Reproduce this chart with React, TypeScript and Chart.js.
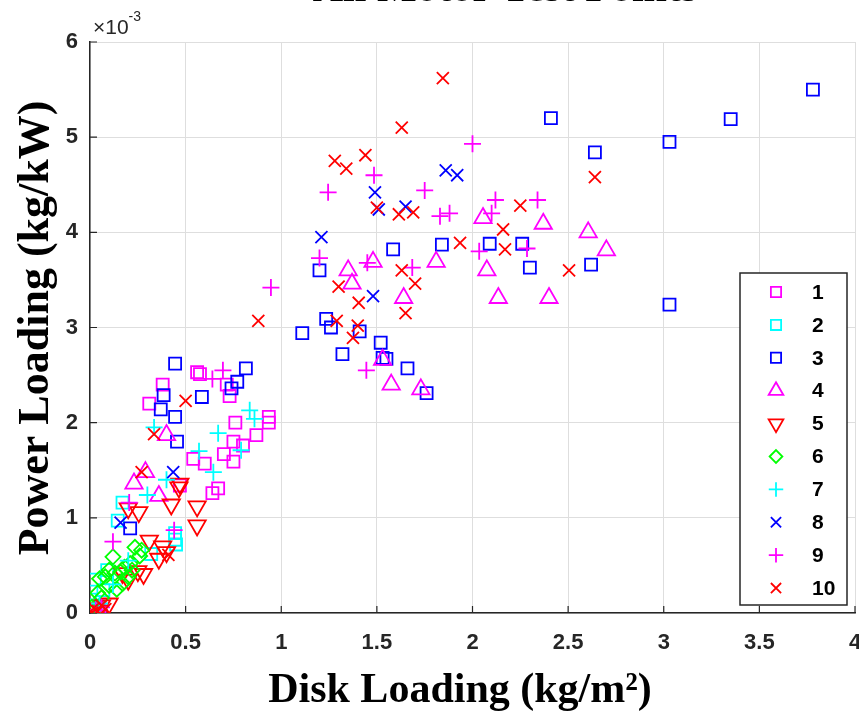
import React, { useEffect, useRef } from 'react';
import { Chart, registerables } from 'chart.js';

Chart.register(...registerables);

// Values: x = disk loading (kg/m^2), y = power loading in units of 10^-3 kg/kW
const SERIES_LABELS = ['1', '2', '3', '4', '5', '6', '7', '8', '9', '10'];
const X_TICKS = [0, 0.5, 1, 1.5, 2, 2.5, 3, 3.5, 4];
const Y_TICKS = [0, 1, 2, 3, 4, 5, 6];
const Y_EXPONENT_LABEL = '-3';
const CHART_TITLE = 'All Motor Test Points';
const X_TITLE = 'Disk Loading (kg/m\u00B2)';
const Y_TITLE = 'Power Loading (kg/kW)';

const series1: [number, number][] = [
  [0.38, 2.40], [0.31, 2.20], [0.56, 2.53], [0.575, 2.51], [0.715, 2.40], [0.73, 2.28],
  [0.935, 2.06], [0.935, 2.00], [0.87, 1.87], [0.76, 2.00], [0.75, 1.80], [0.80, 1.76],
  [0.70, 1.67], [0.75, 1.59], [0.54, 1.62], [0.60, 1.57], [0.67, 1.31], [0.64, 1.26],
  [0.47, 1.34], [0.02, 0.03], [0.05, 0.06],
];
const series2: [number, number][] = [
  [0.17, 1.16], [0.145, 0.97], [0.445, 0.84], [0.445, 0.77], [0.45, 0.72], [0.025, 0.35],
  [0.0, 0.14], [0.07, 0.24], [0.09, 0.45], [0.32, 0.62], [0.03, 0.08],
];
const series3: [number, number][] = [
  [3.78, 5.50], [3.35, 5.19], [3.03, 4.95], [2.41, 5.20], [2.64, 4.84], [3.03, 3.24],
  [2.62, 3.66], [2.30, 3.63], [2.26, 3.88], [2.09, 3.88], [1.84, 3.87], [1.585, 3.82],
  [1.20, 3.60], [1.235, 3.09], [1.26, 3.00], [1.11, 2.94], [1.41, 2.96], [1.52, 2.84],
  [1.32, 2.72], [1.55, 2.67], [1.53, 2.68], [1.66, 2.57], [1.76, 2.31], [0.445, 2.62],
  [0.815, 2.57], [0.77, 2.43], [0.74, 2.36], [0.385, 2.29], [0.585, 2.27], [0.37, 2.14],
  [0.445, 2.06], [0.455, 1.80], [0.21, 0.89],
];
const series4: [number, number][] = [
  [2.055, 4.15], [2.37, 4.09], [2.605, 4.00], [2.70, 3.81], [1.81, 3.69], [2.075, 3.60],
  [2.135, 3.31], [2.40, 3.31], [1.48, 3.69], [1.35, 3.60], [1.37, 3.46], [1.64, 3.31],
  [1.53, 2.66], [1.575, 2.40], [1.73, 2.35], [0.40, 1.87], [0.29, 1.48], [0.23, 1.36],
  [0.36, 1.23],
];
const series5: [number, number][] = [
  [0.47, 1.36], [0.465, 1.32], [0.20, 1.10], [0.255, 1.06], [0.425, 1.14], [0.56, 1.12],
  [0.56, 0.92], [0.31, 0.76], [0.38, 0.70], [0.40, 0.64], [0.36, 0.57], [0.28, 0.41],
  [0.25, 0.44], [0.17, 0.42], [0.20, 0.35], [0.02, 0.05], [0.06, 0.08], [0.10, 0.10],
  [0.04, 0.02],
];
const series6: [number, number][] = [
  [0.12, 0.59], [0.235, 0.69], [0.27, 0.66], [0.26, 0.60], [0.08, 0.38], [0.05, 0.36],
  [0.13, 0.42], [0.16, 0.43], [0.18, 0.48], [0.21, 0.52], [0.10, 0.29], [0.17, 0.31],
  [0.14, 0.25], [0.04, 0.21], [0.06, 0.16], [0.02, 0.02], [0.20, 0.38], [0.10, 0.45],
  [0.22, 0.45], [0.01, 0.06],
];
const series7: [number, number][] = [
  [0.835, 2.13], [0.86, 2.04], [0.67, 1.89], [0.57, 1.70], [0.79, 1.71], [0.645, 1.48],
  [0.335, 1.95], [0.40, 1.40], [0.30, 1.24], [0.20, 0.55], [0.12, 0.30], [0.05, 0.10],
];
const series8: [number, number][] = [
  [1.86, 4.65], [1.92, 4.60], [1.49, 4.42], [1.51, 4.24], [1.65, 4.27], [1.21, 3.95],
  [1.48, 3.33], [0.435, 1.48], [0.16, 0.95],
];
const series9: [number, number][] = [
  [2.00, 4.93], [1.485, 4.60], [1.245, 4.42], [1.75, 4.44], [2.12, 4.34], [2.34, 4.34],
  [2.10, 4.20], [1.83, 4.17], [1.88, 4.20], [1.20, 3.73], [1.45, 3.68], [1.685, 3.63],
  [2.035, 3.80], [2.285, 3.83], [1.445, 2.55], [0.946, 3.42], [0.695, 2.55], [0.64, 2.46],
  [0.205, 1.16], [0.12, 0.75], [0.44, 0.87], [0.03, 0.03], [0.06, 0.06],
];
const series10: [number, number][] = [
  [1.845, 5.62], [1.63, 5.10], [1.28, 4.75], [1.34, 4.67], [1.44, 4.81], [1.50, 4.26],
  [1.615, 4.19], [1.69, 4.21], [2.25, 4.28], [2.16, 4.03], [2.17, 3.82], [1.935, 3.89],
  [2.505, 3.60], [1.63, 3.60], [1.70, 3.46], [1.30, 3.43], [1.405, 3.26], [1.65, 3.15],
  [1.29, 3.07], [1.40, 3.02], [1.375, 2.89], [2.64, 4.58], [0.88, 3.07], [0.50, 2.23],
  [0.335, 1.88], [0.27, 1.48], [0.41, 0.61], [0.02, 0.05], [0.04, 0.02], [0.06, 0.08],
  [0.01, 0.0], [0.08, 0.04],
];

const SERIES_DATA = [series1, series2, series3, series4, series5, series6, series7, series8, series9, series10];

// Styles (kept separate from data)
const COLORS = ['#ff00ff', '#00ffff', '#0000ff', '#ff00ff', '#ff0000', '#00ff00', '#00ffff', '#0000ff', '#ff00ff', '#ff0000'];
const STYLES = ['rect', 'rect', 'rect', 'triangle', 'triangle', 'rectRot', 'cross', 'crossRot', 'cross', 'crossRot'];
const ROTATIONS = [0, 0, 0, 0, 180, 0, 0, 0, 0, 0];
const RADII = [8.5, 8.5, 8.5, 10, 10, 7.5, 8.5, 8.5, 8.5, 8.5];

const AXIS_COLOR = '#262626';
const GRID_COLOR = '#dedede';
const TICK_FONT = 'bold 22px "Liberation Sans", Arial, sans-serif';

function drawMarker(ctx: CanvasRenderingContext2D, style: string, x: number, y: number, r: number, rotDeg: number) {
  ctx.beginPath();
  let rad = (rotDeg * Math.PI) / 180;
  if (style === 'rect') {
    const s = Math.SQRT1_2 * r;
    ctx.rect(x - s, y - s, 2 * s, 2 * s);
  } else if (style === 'triangle') {
    ctx.moveTo(x + Math.sin(rad) * r, y - Math.cos(rad) * r);
    rad += (2 * Math.PI) / 3;
    ctx.lineTo(x + Math.sin(rad) * r, y - Math.cos(rad) * r);
    rad += (2 * Math.PI) / 3;
    ctx.lineTo(x + Math.sin(rad) * r, y - Math.cos(rad) * r);
    ctx.closePath();
  } else if (style === 'rectRot') {
    ctx.moveTo(x - r, y);
    ctx.lineTo(x, y - r);
    ctx.lineTo(x + r, y);
    ctx.lineTo(x, y + r);
    ctx.closePath();
  } else if (style === 'cross') {
    ctx.moveTo(x - r, y);
    ctx.lineTo(x + r, y);
    ctx.moveTo(x, y - r);
    ctx.lineTo(x, y + r);
  } else if (style === 'crossRot') {
    const o = Math.SQRT1_2 * r;
    ctx.moveTo(x - o, y - o);
    ctx.lineTo(x + o, y + o);
    ctx.moveTo(x + o, y - o);
    ctx.lineTo(x - o, y + o);
  }
  ctx.stroke();
}

const decorPlugin = {
  id: 'decor',
  beforeDatasetsDraw(chart: any) {
    const ctx: CanvasRenderingContext2D = chart.ctx;
    const { left, bottom } = chart.chartArea;
    const xs = chart.scales.x;
    const ys = chart.scales.y;
    ctx.save();
    ctx.strokeStyle = AXIS_COLOR;
    ctx.lineWidth = 1.2;
    ctx.beginPath();
    X_TICKS.forEach((t) => {
      const px = xs.getPixelForValue(t);
      ctx.moveTo(px, bottom);
      ctx.lineTo(px, bottom - 7);
    });
    Y_TICKS.forEach((t) => {
      const py = ys.getPixelForValue(t);
      ctx.moveTo(left, py);
      ctx.lineTo(left + 7, py);
    });
    ctx.stroke();
    // x tick labels
    ctx.fillStyle = AXIS_COLOR;
    ctx.font = TICK_FONT;
    ctx.textAlign = 'center';
    ctx.textBaseline = 'middle';
    X_TICKS.forEach((t) => {
      ctx.fillText(String(t), xs.getPixelForValue(t), bottom + 30);
    });
    ctx.restore();
  },
  afterDraw(chart: any) {
    const ctx: CanvasRenderingContext2D = chart.ctx;
    const { left, top } = chart.chartArea;
    ctx.save();
    // exponent label
    ctx.fillStyle = AXIS_COLOR;
    ctx.textBaseline = 'alphabetic';
    ctx.textAlign = 'left';
    ctx.font = '21px "Liberation Sans", Arial, sans-serif';
    ctx.fillText('\u00D710', left + 3, top - 8);
    const w = ctx.measureText('\u00D710').width;
    ctx.font = '14px "Liberation Sans", Arial, sans-serif';
    ctx.fillText(Y_EXPONENT_LABEL, left + 3 + w, top - 21);

    // chart title (mostly cut off at the top)
    ctx.fillStyle = '#000';
    ctx.font = 'bold 42px "Liberation Serif", "Times New Roman", serif';
    ctx.textAlign = 'center';
    ctx.fillText(CHART_TITLE, 505, 1);

    // axis titles
    ctx.font = 'bold 42px "Liberation Serif", "Times New Roman", serif';
    ctx.textAlign = 'center';
    ctx.fillText(X_TITLE, 460, 702);
    ctx.save();
    ctx.translate(48, 328);
    ctx.rotate(-Math.PI / 2);
    ctx.font = 'bold 44px "Liberation Serif", "Times New Roman", serif';
    ctx.fillText(Y_TITLE, 0, 0);
    ctx.restore();

    // legend
    const bx = 740, by = 273, bw = 107, bh = 332;
    ctx.fillStyle = '#ffffff';
    ctx.fillRect(bx, by, bw, bh);
    ctx.strokeStyle = AXIS_COLOR;
    ctx.lineWidth = 1.5;
    ctx.strokeRect(bx, by, bw, bh);
    ctx.font = 'bold 21px "Liberation Sans", Arial, sans-serif';
    ctx.textAlign = 'left';
    ctx.textBaseline = 'middle';
    SERIES_LABELS.forEach((lab, i) => {
      const yy = 292 + i * 32.9;
      ctx.strokeStyle = COLORS[i];
      ctx.lineWidth = 1.8;
      drawMarker(ctx, STYLES[i], 776, yy, RADII[i] * 0.85, ROTATIONS[i]);
      ctx.fillStyle = '#000';
      ctx.fillText(lab, 812, yy + 1);
    });
    ctx.restore();
  },
};

export default function App() {
  const ref = useRef<HTMLCanvasElement>(null);
  useEffect(() => {
    if (!ref.current) return;
    const datasets = SERIES_DATA.map((d, i) => ({
      label: SERIES_LABELS[i],
      data: d.map(([x, y]) => ({ x, y })),
      showLine: false,
      pointStyle: STYLES[i] as any,
      pointRotation: ROTATIONS[i],
      pointRadius: RADII[i],
      pointHoverRadius: RADII[i],
      pointBorderWidth: 1.8,
      borderColor: COLORS[i],
      backgroundColor: 'rgba(0,0,0,0)',
      order: SERIES_DATA.length - i,
    }));
    const tickFont = { family: '"Liberation Sans", Arial, sans-serif', weight: 'bold' as const, size: 22 };
    const chart = new Chart(ref.current, {
      type: 'scatter',
      data: { datasets },
      options: {
        animation: false,
        responsive: false,
        devicePixelRatio: 1,
        layout: { autoPadding: false, padding: { left: 0, top: 42, right: 4, bottom: 0 } },
        plugins: { legend: { display: false }, tooltip: { enabled: false }, title: { display: false } },
        scales: {
          x: {
            type: 'linear',
            min: 0,
            max: 4,
            afterBuildTicks: (s: any) => { s.ticks = X_TICKS.map((v) => ({ value: v })); },
            ticks: { display: false },
            grid: { color: GRID_COLOR, lineWidth: 1, drawTicks: false },
            border: { display: true, color: AXIS_COLOR, width: 1.5 },
            afterFit: (s: any) => { s.height = 101; },
          },
          y: {
            type: 'linear',
            min: 0,
            max: 6,
            afterBuildTicks: (s: any) => { s.ticks = Y_TICKS.map((v) => ({ value: v })); },
            ticks: { color: AXIS_COLOR, font: tickFont, padding: 12, callback: (v: any) => String(v) },
            grid: { color: GRID_COLOR, lineWidth: 1, drawTicks: false },
            border: { display: true, color: AXIS_COLOR, width: 1.5 },
            afterFit: (s: any) => { s.width = 90; },
          },
        },
      },
      plugins: [decorPlugin],
    });
    return () => chart.destroy();
  }, []);
  return (
    <div style={{ position: 'fixed', left: 0, top: 0, width: 859, height: 714, background: '#fff', overflow: 'hidden' }}>
      <canvas ref={ref} width={859} height={714} />
    </div>
  );
}
